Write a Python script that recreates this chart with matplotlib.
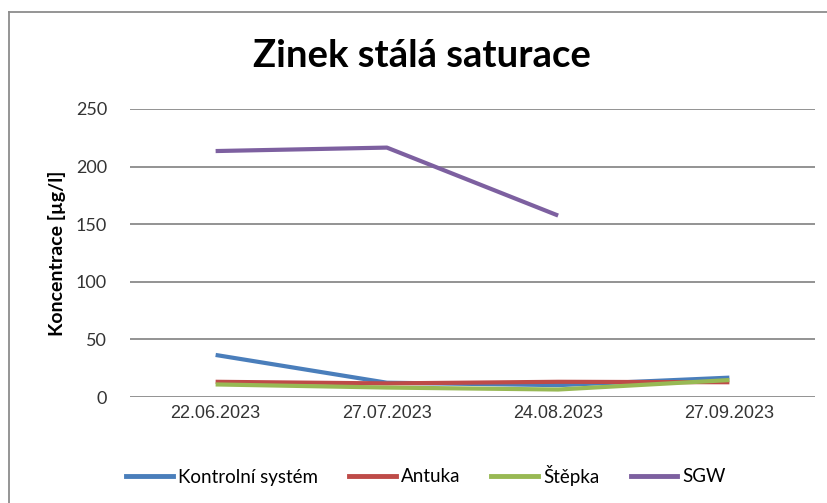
import matplotlib
matplotlib.use("Agg")
import matplotlib.pyplot as plt
from matplotlib.lines import Line2D

# sampling dates and measured zinc concentrations [ug/l]
dates = ["22.06.2023", "27.07.2023", "24.08.2023", "27.09.2023"]
kontrolni = [36.5, 12.4, 10.3, 16.8]
antuka = [13.2, 11.8, 13.2, 12.8]
stepka = [10.9, 8.2, 6.5, 14.7]
sgw = [213.5, 216.5, 157.5, None]

series = [
    ("Kontrolní systém", kontrolni, "#4A7EBB"),
    ("Antuka", antuka, "#BE4B48"),
    ("Štěpka", stepka, "#98B954"),
    ("SGW", sgw, "#7D60A0"),
]

fig = plt.figure(figsize=(8.27, 5.03), dpi=100)
ax = fig.add_axes([130 / 827, 1 - 397 / 503, 685 / 827, 288 / 503])

x = list(range(len(dates)))
for name, vals, color in series:
    pts = [(i, v) for i, v in zip(x, vals) if v is not None]
    ax.plot([p[0] for p in pts], [p[1] for p in pts], color=color,
            linewidth=3, solid_capstyle="butt", label=name)

ax.set_xlim(-0.5, 3.5)
ax.set_ylim(0, 250)
ax.set_yticks(range(0, 251, 50))
ax.yaxis.grid(True, color="#8a8a8a", linewidth=1.3)
ax.set_axisbelow(True)
for s in ax.spines.values():
    s.set_visible(False)
ax.tick_params(length=0)
ax.tick_params(axis="y", pad=16.5, labelsize=13, labelcolor="#333333")
ax.tick_params(axis="x", pad=6, labelsize=13, labelcolor="#333333")
for lab in ax.get_yticklabels():
    lab.set_family("Lato")
ax.set_xticks(x)
ax.set_xticklabels(dates, family="Liberation Sans")

ax.set_ylabel("Koncentrace [µg/l]", family="Lato", fontweight="bold",
              fontsize=14, labelpad=7)

fig.text(0.51, 1 - 56 / 503, "Zinek stálá saturace", ha="center", va="center",
         family="Lato", fontweight="bold", fontsize=27.5)

handles = [Line2D([0], [0], color=c, linewidth=3.5) for _, _, c in series]
fig.legend(handles, [n for n, _, _ in series], loc="center",
           bbox_to_anchor=(426 / 827, 1 - 475 / 503), ncol=4, frameon=False,
           prop={"family": "Lato", "size": 13.5}, handlelength=2.5,
           handletextpad=0.27, columnspacing=1.65)

# chart frame (left and top edges)
fig.add_artist(Line2D([9 / 827, 9 / 827], [0, 1 - 12 / 503], color="#8c8c8c",
                      linewidth=1.3, transform=fig.transFigure))
fig.add_artist(Line2D([9 / 827, 1], [1 - 12 / 503, 1 - 12 / 503], color="#8c8c8c",
                      linewidth=1.3, transform=fig.transFigure))

fig.savefig("out.png", dpi=100)
